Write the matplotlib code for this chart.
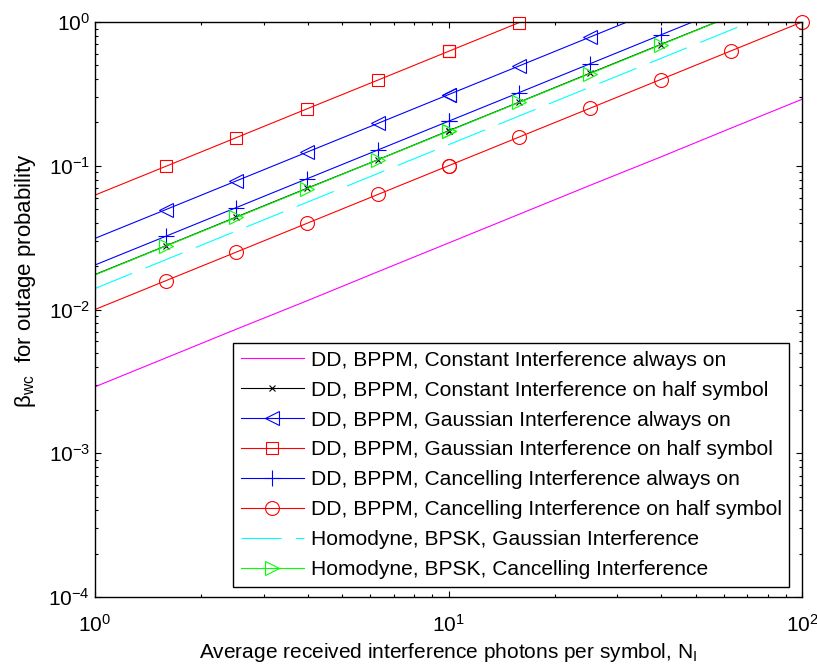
import numpy as np
import matplotlib
matplotlib.use('Agg')
import matplotlib.pyplot as plt
from matplotlib import font_manager

names = {f.name for f in font_manager.fontManager.ttflist}
narrow = 'Liberation Sans Narrow' if 'Liberation Sans Narrow' in names else 'Liberation Sans'

plt.rcParams['font.family'] = ['Liberation Sans', 'DejaVu Sans']
plt.rcParams['mathtext.fontset'] = 'custom'
plt.rcParams['mathtext.rm'] = narrow
plt.rcParams['mathtext.it'] = narrow + ':italic'
plt.rcParams['mathtext.default'] = 'rm'

# interference photons per symbol
n_i = [1, 1.585, 2.512, 3.981, 6.310, 10, 15.85, 25.12, 39.81, 63.10, 100]

# beta_wc for each scheme
dd_const_on   = [0.0029, 0.0046, 0.0073, 0.0115, 0.0183, 0.029, 0.046, 0.073, 0.115, 0.183, 0.29]
dd_const_half = [0.0175, 0.0277, 0.044, 0.0697, 0.110, 0.175, 0.277, 0.44, 0.697, 1.10, 1.75]
dd_gauss_on   = [0.03125, 0.0495, 0.0785, 0.1244, 0.197, 0.3125, 0.495, 0.785, 1.244, 1.97, 3.125]
dd_gauss_half = [0.0625, 0.099, 0.157, 0.249, 0.394, 0.625, 0.991, 1.57, 2.49, 3.94, 6.25]
dd_canc_on    = [0.0204, 0.0323, 0.0512, 0.0812, 0.1287, 0.204, 0.323, 0.512, 0.812, 1.287, 2.04]
dd_canc_half  = [0.01, 0.01585, 0.0251, 0.0398, 0.0631, 0.1, 0.1585, 0.251, 0.398, 0.631, 1.0]
hom_gauss     = [0.014, 0.0222, 0.0352, 0.0557, 0.0883, 0.14, 0.222, 0.352, 0.557, 0.883, 1.4]
hom_canc      = [0.0174, 0.0276, 0.0437, 0.0693, 0.1098, 0.174, 0.276, 0.437, 0.693, 1.098, 1.74]

labels = ['DD, BPPM, Constant Interference always on',
          'DD, BPPM, Constant Interference on half symbol',
          'DD, BPPM, Gaussian Interference always on',
          'DD, BPPM, Gaussian Interference on half symbol',
          'DD, BPPM, Cancelling Interference always on',
          'DD, BPPM, Cancelling Interference on half symbol',
          'Homodyne, BPSK, Gaussian Interference',
          'Homodyne, BPSK, Cancelling Interference']

series = [dd_const_on, dd_const_half, dd_gauss_on, dd_gauss_half,
          dd_canc_on, dd_canc_half, hom_gauss, hom_canc]
colors = ['#ff00ff', 'k', '#0000ff', '#ff0000', '#0000ff', '#ff0000', '#00ffff', '#00ff00']
markers = [None, 'x', '<', 's', '+', 'o', None, '>']
msizes = [0, 5, 10, 9, 11, 10, 0, 10]

fig = plt.figure(figsize=(8.17, 6.68), dpi=100)
ax = fig.add_axes([95/817, 1-597/668, 707/817, 575/668])

x = np.array(n_i)
handles = []
for y, c, m, ms, lab in zip(series, colors, markers, msizes, labels):
    y = np.array(y)
    h, = ax.plot(x, y, color=c, lw=0.8, marker=m, ms=ms,
                 mfc='none', mec=c, mew=0.8, markevery=[], label=lab)
    if c == '#00ffff':
        h.set_dashes((36, 13))
    if m is not None:
        # markers from the second point on, only inside the y range
        keep = (np.arange(len(x)) > 0) & (y <= 1.0001)
        ax.plot(x[keep], y[keep], ls='none', marker=m, ms=ms, mfc='none',
                mec=c, mew=0.8, clip_on=False)
    handles.append(h)

ax.set_xscale('log')
ax.set_yscale('log')
ax.set_xlim(1, 100)
ax.set_ylim(1e-4, 1)

ax.tick_params(which='both', direction='in', top=True, right=True, labelsize=15)
ax.tick_params(which='major', length=4.5, width=0.8)
ax.tick_params(which='minor', length=2.5, width=0.8)
ax.tick_params(axis='x', pad=12)
for sp in ax.spines.values():
    sp.set_linewidth(1.0)

ax.set_xlabel('Average received interference photons per symbol, N$_\\mathrm{I}$',
              fontsize=15, family=narrow)
ax.set_ylabel('$\\beta_{\\mathrm{wc}}$  for outage probability', fontsize=16, family=narrow)
ax.yaxis.set_label_coords(-0.08, 0.55)
ax.xaxis.set_label_coords(0.5, -0.076)

for h in handles:
    h.set_markevery([len(n_i) // 2])

leg = ax.legend(handles=handles, loc='lower left', bbox_to_anchor=(0.1955, 0.018),
                borderaxespad=0, fontsize=15.1, frameon=True, fancybox=False,
                edgecolor='k', framealpha=1, handlelength=3.0, handletextpad=0.34,
                labelspacing=0.52, borderpad=0.36, numpoints=1)
leg.get_frame().set_linewidth(1.0)

fig.savefig('out.png', dpi=100)
